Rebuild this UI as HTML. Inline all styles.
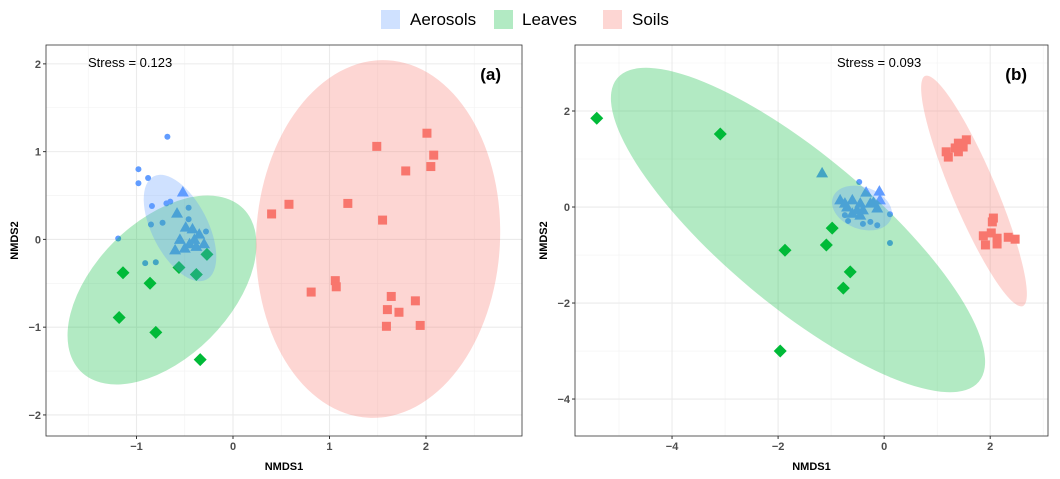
<!DOCTYPE html>
<html><head><meta charset="utf-8"><style>
body{margin:0;background:#fff;}
svg{display:block;font-family:"Liberation Sans",Arial,sans-serif;}
</style></head><body>
<svg id="c" width="1060" height="479" xmlns="http://www.w3.org/2000/svg">
<g>
<rect x="381" y="10" width="19" height="19" fill="#619CFF" fill-opacity="0.3"/>
<text x="410" y="25" font-size="17">Aerosols</text>
<rect x="494" y="10" width="19" height="19" fill="#00BA38" fill-opacity="0.3"/>
<text x="522" y="25" font-size="17">Leaves</text>
<rect x="603" y="10" width="19" height="19" fill="#F8766D" fill-opacity="0.3"/>
<text x="632" y="25" font-size="17">Soils</text>
</g>
</svg>
<script>
// Panel (a) data
const aAerosolCircles=[[-0.68,1.17],[-0.98,0.80],[-0.88,0.70],[-0.98,0.64],[-0.84,0.38],[-0.69,0.41],[-0.65,0.43],[-0.46,0.36],[-0.46,0.23],[-0.85,0.17],[-0.73,0.19],[-0.28,0.09],[-1.19,0.01],[-0.91,-0.27],[-0.80,-0.26]];
const aAerosolTriangles=[[-0.52,0.54],[-0.58,0.30],[-0.49,0.14],[-0.42,0.12],[-0.35,0.06],[-0.55,0.0],[-0.45,-0.05],[-0.38,-0.08],[-0.30,-0.05],[-0.60,-0.12],[-0.50,-0.10],[-0.40,0.0]];
const aLeaves=[[-0.27,-0.17],[-0.56,-0.32],[-0.38,-0.40],[-1.14,-0.38],[-0.86,-0.50],[-1.18,-0.89],[-0.80,-1.06],[-0.34,-1.37]];
const aSoils=[[2.01,1.21],[1.49,1.06],[2.08,0.96],[2.05,0.83],[1.79,0.78],[1.19,0.41],[0.58,0.40],[0.40,0.29],[1.55,0.22],[1.06,-0.47],[1.07,-0.54],[0.81,-0.60],[1.64,-0.65],[1.89,-0.70],[1.60,-0.80],[1.72,-0.83],[1.94,-0.98],[1.59,-0.99]];
// Panel (b) data
const bAerosolCircles=[[-0.47,0.52],[0.11,-0.75],[0.11,-0.15],[-0.13,-0.38],[-0.26,-0.31],[-0.40,-0.35],[-0.68,-0.29],[-0.74,-0.17]];
const bAerosolTriangles=[[-1.17,0.71],[-0.09,0.33],[-0.34,0.31],[-0.83,0.15],[-0.60,0.15],[-0.45,0.08],[-0.26,0.08],[-0.70,0.0],[-0.51,-0.06],[-0.13,-0.02],[-0.40,-0.06],[-0.60,-0.13],[-0.20,0.10],[-0.08,0.15],[-0.45,-0.17],[-0.74,0.08]];
const bLeaves=[[-5.42,1.85],[-3.09,1.52],[-0.98,-0.44],[-1.87,-0.90],[-1.09,-0.79],[-0.64,-1.35],[-0.77,-1.69],[-1.96,-3.0]];
const bSoils=[[1.17,1.15],[1.21,1.04],[1.34,1.23],[1.40,1.33],[1.49,1.25],[1.55,1.40],[1.40,1.15],[2.06,-0.23],[2.04,-0.31],[1.87,-0.60],[1.91,-0.79],[2.02,-0.54],[2.13,-0.65],[2.13,-0.77],[2.34,-0.63],[2.47,-0.67]];
const aXTicks=[-1,0,1,2], aYTicks=[2,1,0,-1,-2];
const bXTicks=[-4,-2,0,2], bYTicks=[2,0,-2,-4];
const aStress="Stress = 0.123", bStress="Stress = 0.093";

const NS="http://www.w3.org/2000/svg";
const svg=document.getElementById('c');
function mk(tag,attrs,parent){const e=document.createElementNS(NS,tag);for(const k in attrs)e.setAttribute(k,attrs[k]);(parent||svg).appendChild(e);return e;}
const COL={aer:"#619CFF",lea:"#00BA38",soi:"#F8766D"};

function panel(cfg){
  const g=mk('g',{});
  
  
  const X=v=>cfg.x0+(v-cfg.xmin)/(cfg.xmax-cfg.xmin)*(cfg.x1-cfg.x0);
  const Y=v=>cfg.y1-(v-cfg.ymin)/(cfg.ymax-cfg.ymin)*(cfg.y1-cfg.y0);
  // grid
  const minorX=[],minorY=[];
  for(let i=0;i<cfg.xt.length-1;i++)minorX.push((cfg.xt[i]+cfg.xt[i+1])/2);
  minorX.push(cfg.xt[0]-(cfg.xt[1]-cfg.xt[0])/2);minorX.push(cfg.xt[cfg.xt.length-1]+(cfg.xt[1]-cfg.xt[0])/2);
  const ys=[...cfg.yt].sort((a,b)=>a-b);
  for(let i=0;i<ys.length-1;i++)minorY.push((ys[i]+ys[i+1])/2);
  minorY.push(ys[0]-(ys[1]-ys[0])/2);minorY.push(ys[ys.length-1]+(ys[1]-ys[0])/2);
  minorX.forEach(v=>{const x=X(v);if(x>cfg.x0&&x<cfg.x1){const l=mk('line',{x1:x,x2:x,y1:cfg.y0,y2:cfg.y1,stroke:'#F2F2F2','stroke-width':0.6},g);}});
  minorY.forEach(v=>{const y=Y(v);if(y>cfg.y0&&y<cfg.y1){const l=mk('line',{x1:cfg.x0,x2:cfg.x1,y1:y,y2:y,stroke:'#F2F2F2','stroke-width':0.6},g);}});
  cfg.xt.forEach(v=>{const x=X(v);const l=mk('line',{x1:x,x2:x,y1:cfg.y0,y2:cfg.y1,stroke:'#EBEBEB','stroke-width':1.1},g);
    const t=mk('line',{x1:x,x2:x,y1:cfg.y1,y2:cfg.y1+3,stroke:'#333','stroke-width':1},g);
    const tx=mk('text',{x:x,y:cfg.y1+14,'font-size':11,'font-weight':'bold','text-anchor':'middle',fill:'#4D4D4D'},g);tx.textContent=(v<0?'\u2212'+(-v):v);});
  cfg.yt.forEach(v=>{const y=Y(v);const l=mk('line',{x1:cfg.x0,x2:cfg.x1,y1:y,y2:y,stroke:'#EBEBEB','stroke-width':1.1},g);
    const t=mk('line',{x1:cfg.x0-3,x2:cfg.x0,y1:y,y2:y,stroke:'#333','stroke-width':1},g);
    const tx=mk('text',{x:cfg.x0-5,y:y+4,'font-size':11,'font-weight':'bold','text-anchor':'end',fill:'#4D4D4D'},g);tx.textContent=(v<0?'\u2212'+(-v):v);});
  // points
  cfg.aerC.forEach(p=>{const c=mk('circle',{cx:X(p[0]),cy:Y(p[1]),r:3,fill:COL.aer},g);});
  cfg.aerT.forEach(p=>{const x=X(p[0]),y=Y(p[1]);const c=mk('polygon',{points:`${x},${y-6} ${x-6},${y+4.5} ${x+6},${y+4.5}`,fill:COL.aer},g);});
  cfg.lea.forEach(p=>{const x=X(p[0]),y=Y(p[1]);const c=mk('polygon',{points:`${x},${y-6.5} ${x+6.5},${y} ${x},${y+6.5} ${x-6.5},${y}`,fill:COL.lea},g);});
  cfg.soi.forEach(p=>{const x=X(p[0]),y=Y(p[1]);const c=mk('rect',{x:x-4.5,y:y-4.5,width:9,height:9,fill:COL.soi},g);});
  // ellipses
  cfg.ell.forEach(e=>{const el=mk('ellipse',{cx:0,cy:0,rx:e.rx,ry:e.ry,fill:e.col,'fill-opacity':0.3,transform:`translate(${e.cx},${e.cy}) rotate(${e.rot})`},g);});
  // border
  const b=mk('rect',{x:cfg.x0,y:cfg.y0,width:cfg.x1-cfg.x0,height:cfg.y1-cfg.y0,fill:'none',stroke:'#333','stroke-width':0.8},g);
  const s=mk('text',{x:cfg.sx,y:67,'font-size':13},g);s.textContent=cfg.stress;
  const tg=mk('text',{x:cfg.x1-21,y:80,'font-size':17,'font-weight':'bold','text-anchor':'end'},g);tg.textContent=cfg.tag;
  const xt=mk('text',{x:(cfg.x0+cfg.x1)/2,y:470,'font-size':11,'font-weight':'bold','text-anchor':'middle'},g);xt.textContent='NMDS1';
  const yt=mk('text',{x:0,y:0,'font-size':11,'font-weight':'bold','text-anchor':'middle',transform:`translate(${cfg.x0-28},${(cfg.y0+cfg.y1)/2}) rotate(-90)`},g);yt.textContent='NMDS2';
}
panel({name:'panel-a',x0:46,x1:522,y0:45,y1:436,xmin:-1.938,xmax:2.995,ymin:-2.24,ymax:2.215,xt:aXTicks,yt:aYTicks,
  aerC:aAerosolCircles,aerT:aAerosolTriangles,lea:aLeaves,soi:aSoils,stress:aStress,sx:88,tag:'(a)',
  ell:[{name:'leaves-ellipse',cx:162,cy:290,rx:115,ry:68,rot:-45,col:COL.lea},{name:'aerosols-ellipse',cx:180,cy:228,rx:58,ry:28,rot:63,col:COL.aer},{name:'soils-ellipse',cx:378,cy:239,rx:122,ry:179,rot:3,col:COL.soi}]});
panel({name:'panel-b',x0:575,x1:1048,y0:45,y1:436,xmin:-5.83,xmax:3.09,ymin:-4.77,ymax:3.375,xt:bXTicks,yt:bYTicks,
  aerC:bAerosolCircles,aerT:bAerosolTriangles,lea:bLeaves,soi:bSoils,stress:bStress,sx:837,tag:'(b)',
  ell:[{name:'leaves-ellipse',cx:798,cy:230,rx:236,ry:75,rot:40,col:COL.lea},{name:'aerosols-ellipse',cx:862,cy:208,rx:31,ry:21,rot:20,col:COL.aer},{name:'soils-ellipse',cx:974,cy:191,rx:125,ry:22,rot:67,col:COL.soi}]});
</script>
</body></html>
